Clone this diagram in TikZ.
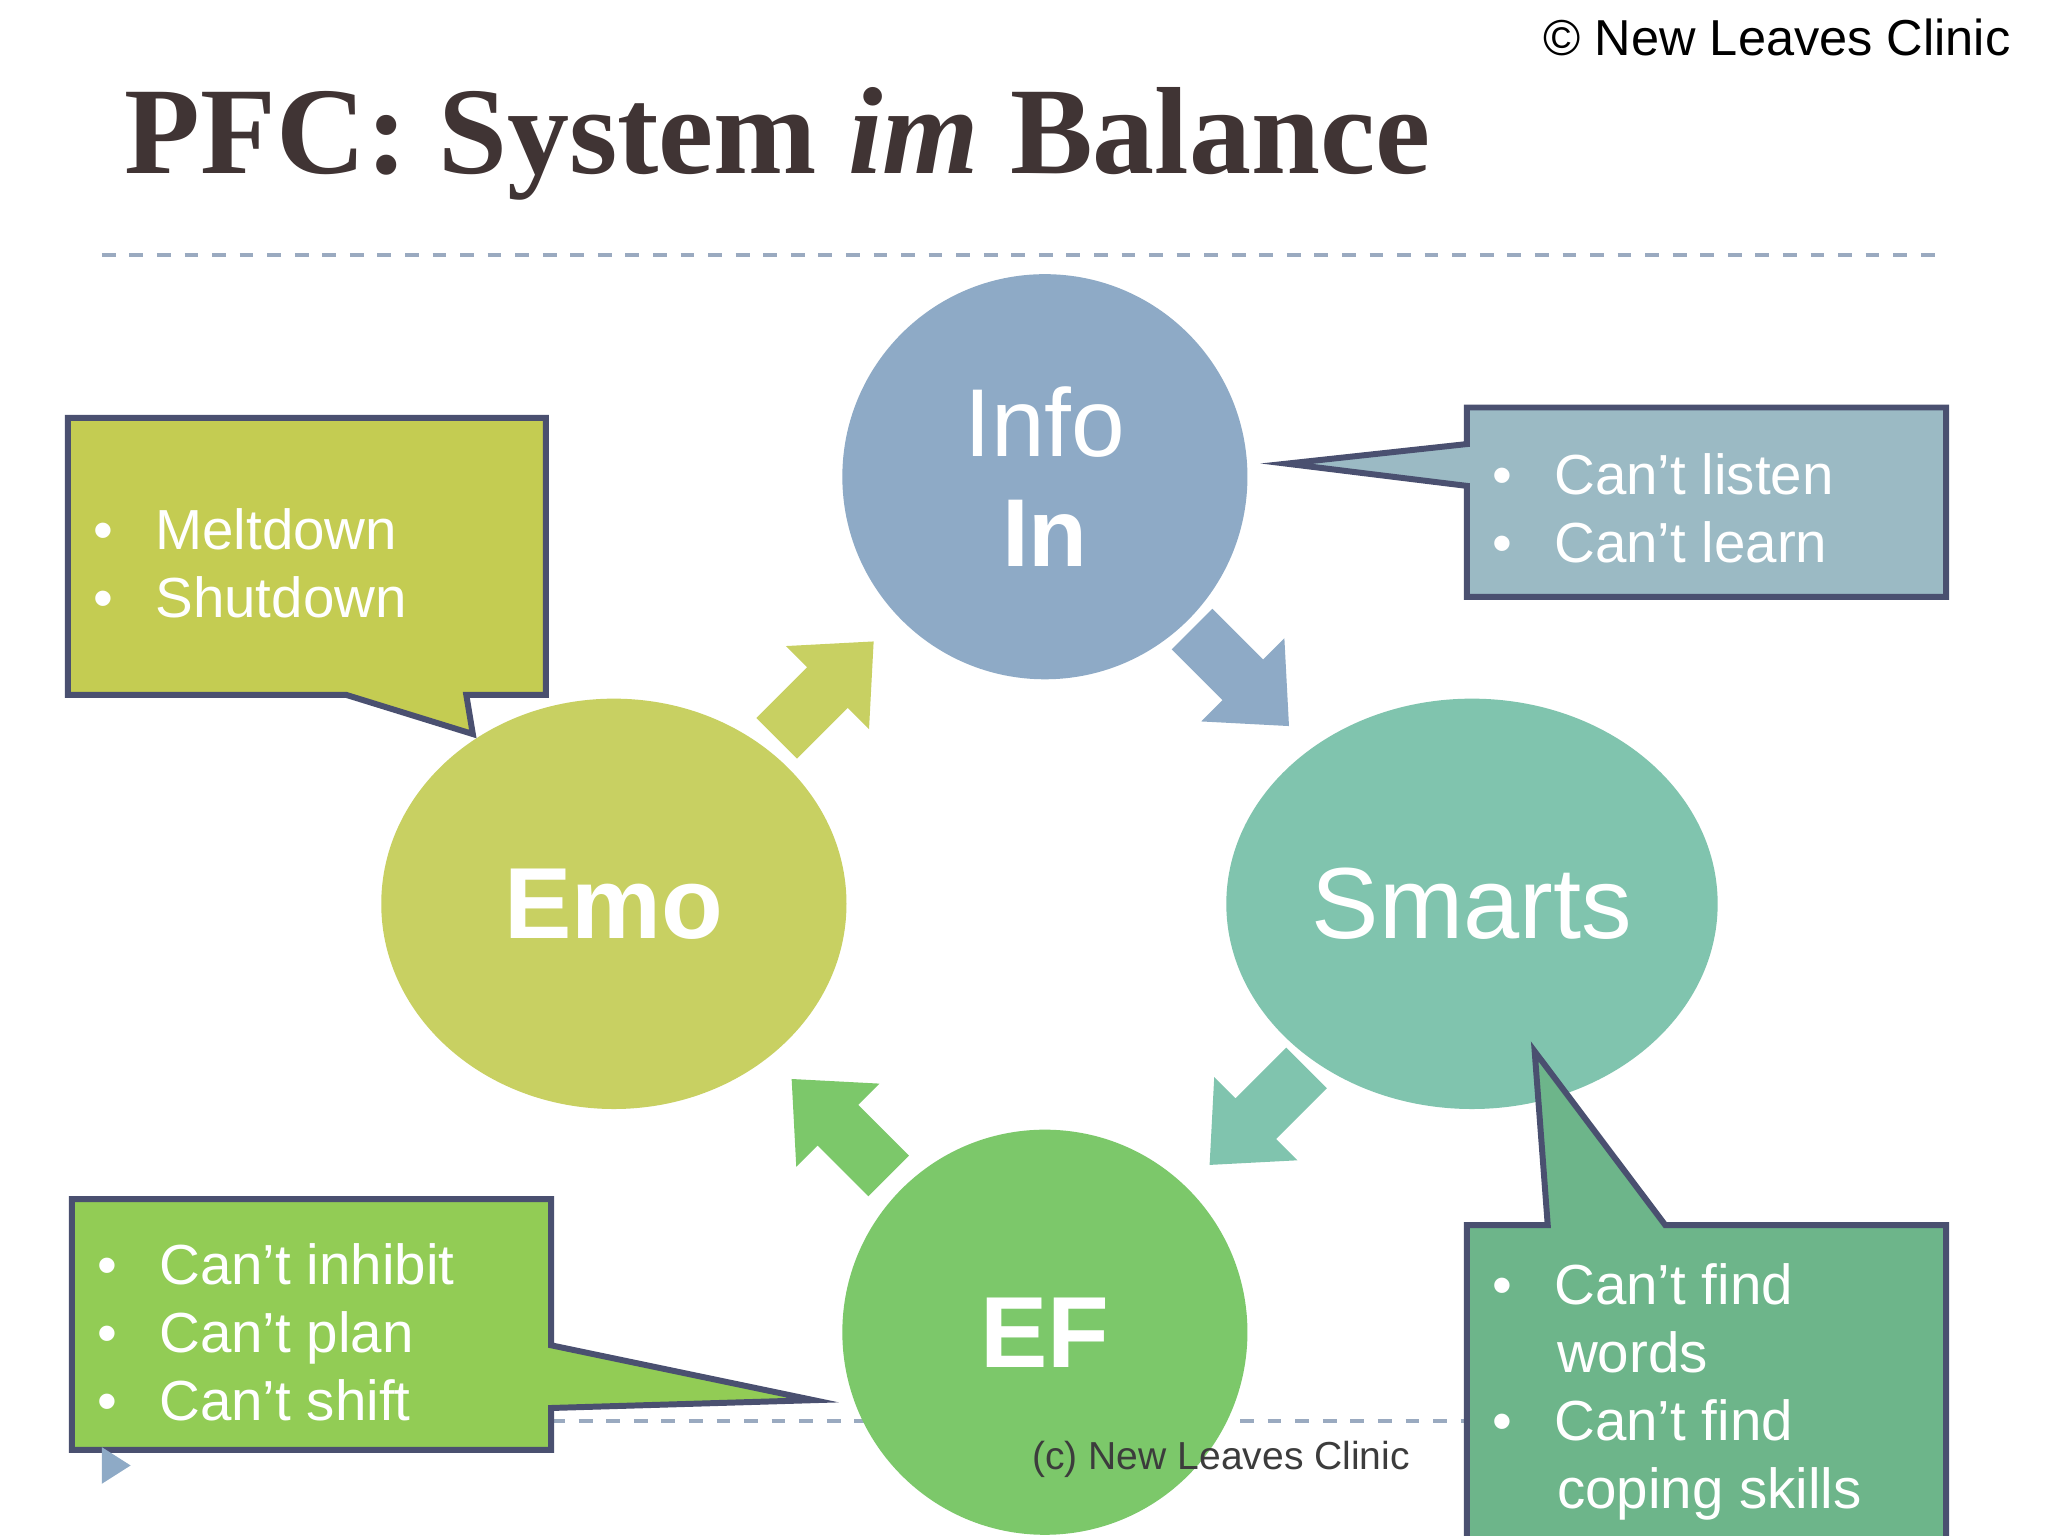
\documentclass[tikz,border=0pt]{standalone}
\usepackage{fontspec}
\setmainfont{Liberation Sans}
\newfontfamily\titlefont{Liberation Serif}
\usetikzlibrary{shapes.geometric}
\definecolor{infoc}{HTML}{8EAAC6}
\definecolor{emoc}{HTML}{C8D062}
\definecolor{smartc}{HTML}{80C4AE}
\definecolor{efc}{HTML}{7CC86A}
\definecolor{bord}{HTML}{4A5070}
\definecolor{dashc}{HTML}{9AAAC0}
\tikzset{
 circ/.style={ellipse,draw=none,inner sep=0pt,text=white,align=center},
 call/.style={draw=bord,line width=1.3pt},
 btxt/.style={text=white,font=\fontsize{12.3pt}{14.8pt}\selectfont,align=left,anchor=north west},
}
\newcommand{\blockarrow}[3]{\fill[#1,shift={#2},rotate=#3] (-50,-22) -- (5,-22) -- (5,-45) -- (55,0) -- (5,45) -- (5,22) -- (-50,22) -- cycle;}
\begin{document}
\begin{tikzpicture}[x={(0.01cm,0)},y={(0,-0.01cm)}]
\useasboundingbox[fill=white] (0,0) rectangle (1568,1176);
\node[anchor=north east,inner sep=0pt,font=\fontsize{11pt}{13pt}\selectfont] (copy) at (1540,14) {© New Leaves Clinic};
\node[anchor=west,inner sep=0pt,font=\titlefont\bfseries\fontsize{27pt}{32pt}\selectfont,text={rgb,255:red,64;green,52;blue,52}] (title) at (95,110) {PFC: System \textit{im} Balance};
\draw[dashc,dashed,line width=0.8pt] (78,195) -- (1490,195);
\draw[dashc,dashed,line width=0.8pt] (422,1088) -- (1123,1088);
% circles
\node[circ,fill=infoc,minimum width=3.1cm,minimum height=3.1cm,font=\fontsize{21pt}{24pt}\selectfont] (info) at (800,365) {Info\\\textbf{In}};
\node[circ,fill=emoc,minimum width=3.56cm,minimum height=3.14cm,font=\bfseries\fontsize{22pt}{26pt}\selectfont] (emo) at (470,692) {Emo};
\node[circ,fill=smartc,minimum width=3.76cm,minimum height=3.14cm,font=\fontsize{22pt}{26pt}\selectfont] (smarts) at (1127,692) {Smarts};
\node[circ,fill=efc,minimum width=3.1cm,minimum height=3.1cm,font=\bfseries\fontsize{22pt}{26pt}\selectfont] (ef) at (800,1020) {EF};
% arrows
\blockarrow{emoc}{(630,530)}{45}
\blockarrow{infoc}{(948,517)}{-45}
\blockarrow{smartc}{(965,853)}{-135}
\blockarrow{efc}{(645,865)}{135}
% callouts
\draw[call,fill={rgb,255:red,155;green,186;blue,196}] (1123,312) -- (1490,312) -- (1490,457) -- (1123,457) -- (1123,372) -- (985,355) -- (1123,340) -- cycle;
\node[btxt] (t1) at (1130,335) {•\hspace{0.75em}Can’t listen\\•\hspace{0.75em}Can’t learn};
\draw[call,fill={rgb,255:red,196;green,204;blue,82}] (52,320) -- (418,320) -- (418,532) -- (357,532) -- (362,562) -- (265,532) -- (52,532) -- cycle;
\node[btxt] (t2) at (59,377) {•\hspace{0.75em}Meltdown\\•\hspace{0.75em}Shutdown};
\draw[call,fill={rgb,255:red,146;green,204;blue,85}] (55,918) -- (422,918) -- (422,1030) -- (623,1072) -- (422,1078) -- (422,1110) -- (55,1110) -- cycle;
\node[btxt] (t3) at (62,940) {•\hspace{0.75em}Can’t inhibit\\•\hspace{0.75em}Can’t plan\\•\hspace{0.75em}Can’t shift};
\draw[call,fill={rgb,255:red,109;green,181;blue,138}] (1123,938) -- (1185,938) -- (1175,805) -- (1275,938) -- (1490,938) -- (1490,1180) -- (1123,1180) -- cycle;
\node[btxt] (t4) at (1130,955) {•\hspace{0.75em}Can’t find\\\hspace{1.15em}words\\•\hspace{0.75em}Can’t find\\\hspace{1.15em}coping skills};
\node[font=\fontsize{8.5pt}{10pt}\selectfont,text={rgb,255:red,60;green,60;blue,60}] (foot) at (935,1117) {(c) New Leaves Clinic};
\fill[infoc] (78,1108) -- (100,1122) -- (78,1136) -- cycle;
\end{tikzpicture}
\end{document}
